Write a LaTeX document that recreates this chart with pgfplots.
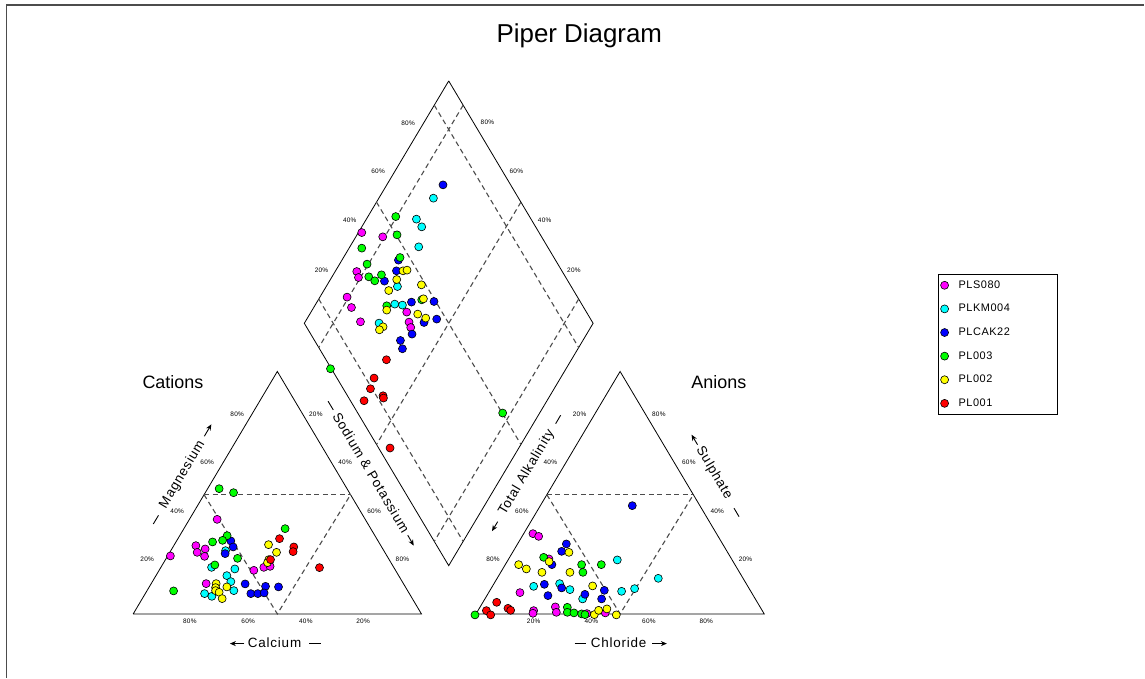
\documentclass[border=0pt]{standalone}
\usepackage{pgfplots}
\pgfplotsset{compat=1.18}
\usepackage{fontspec}
\setmainfont{Liberation Sans}
\usetikzlibrary{arrows.meta}
\definecolor{cMag}{RGB}{255,0,255}
\definecolor{cCya}{RGB}{0,255,255}
\definecolor{cBlu}{RGB}{0,0,255}
\definecolor{cGrn}{RGB}{0,255,0}
\definecolor{cYel}{RGB}{255,255,0}
\definecolor{cRed}{RGB}{255,0,0}
\newcommand\tk{\fontsize{6.5}{7}\selectfont\addfontfeature{LetterSpace=4}}
\newcommand\lab{\fontsize{13.5}{15}\selectfont\addfontfeature{LetterSpace=6}}
\newcommand\legtxt[1]{\makebox[94bp][l]{#1}}
\pgfplotsset{
  edge/.style={black, line width=0.8bp, forget plot, no markers},
  dsh/.style={black!70, line width=1.1bp, dash pattern=on 5bp off 3.5bp, forget plot, no markers},
  ser/.style={only marks, mark=*, mark size=4bp, mark options={draw=black, line width=0.6bp, fill=#1}},
}
\begin{document}
\begin{tikzpicture}
\begin{axis}[
  width=1145bp, height=678bp, scale only axis,
  xmin=0, xmax=1145, ymin=0, ymax=678, y dir=reverse,
  hide axis, clip=false,
  legend image code/.code={\draw[#1] plot coordinates {(0bp,0bp)};},
  legend style={at={(axis cs:938.3,274)}, anchor=north west, draw=black, line width=0.8bp,
    inner xsep=2.5bp, inner ysep=4.5bp, row sep=10.5bp, column sep=8bp,
    cells={anchor=west},
    font=\fontsize{11}{13}\selectfont\addfontfeature{LetterSpace=5}},
]
\path (axis cs:0,0) (axis cs:1145,678);
% frame
\draw[black!70, line width=1.5bp] (axis cs:6.5,678) -- (axis cs:6.5,5) -- (axis cs:1145,5);

% cation triangle
\addplot[edge] coordinates {(133.3,614.3) (421.7,614.3) (277.5,371.7) (133.3,614.3)};
\addplot[dsh] coordinates {(204.2,495) (350.8,495)};
\addplot[dsh] coordinates {(204.2,495) (277.5,614.3) (350.8,495)};
% anion triangle
\addplot[edge] coordinates {(476.3,614.3) (764.7,614.3) (620.5,371.7) (476.3,614.3)};
\addplot[dsh] coordinates {(547.2,495) (693.8,495)};
\addplot[dsh] coordinates {(547.2,495) (620.5,614.3) (693.8,495)};
% diamond
\addplot[edge] coordinates {(449,81) (304.5,323.5) (449,566) (593.5,323.5) (449,81)};
\addplot[dsh] coordinates {(463.45,105.25) (318.95,347.75)};
\addplot[dsh] coordinates {(521.25,202.25) (376.75,444.75)};
\addplot[dsh] coordinates {(579.05,299.25) (434.55,541.75)};
\addplot[dsh] coordinates {(434.55,105.25) (579.05,347.75)};
\addplot[dsh] coordinates {(376.75,202.25) (521.25,444.75)};
\addplot[dsh] coordinates {(318.95,299.25) (463.45,541.75)};

% data series
\addplot[ser=cMag] coordinates {
 (217.3,519.7) (196,546) (197.3,552.7) (205.3,549.3) (204.7,556.7) (170.5,556.3) (254,570.7) (264,567.7) (270.3,566.7) (206.3,584)
 (362,232.7) (383,237) (357,271.7) (358.7,277.7) (347.3,297.3) (351.7,307.7) (407,312.3) (360.7,322) (409.3,322.3) (411,327.7)
 (533.3,534) (539,536.7) (549.3,559.3) (520.3,593) (534,611) (533.3,613.7) (555.7,607.3) (556.7,612.7) (587.3,614) (605.7,613.3)};
\addlegendentry{\legtxt{PLS080}}
\addplot[ser=cCya] coordinates {
 (225.7,551) (211.7,567.7) (235,569.3) (227,576) (231,582) (234,591) (204.7,594) (212,596.7)
 (433.7,198.3) (416.7,219.3) (422,227) (419,247) (397.7,286.7) (395,304.3) (402.7,305.3) (379.3,323.3)
 (617.7,560.3) (658.7,578.7) (534,586.7) (560,584) (570.3,590) (622,591.7) (635,589) (583,599.3)};
\addlegendentry{\legtxt{PLKM004}}
\addplot[ser=cBlu] coordinates {
 (231,541.3) (233.3,547.3) (225.3,554) (245.3,584.3) (265.7,586.7) (278.7,587.3) (251,594) (258,594) (264.3,593.3)
 (443.3,185) (398.7,260.3) (396.7,271) (384.7,281.3) (411.7,302.3) (434.3,301.7) (437,319.3) (424.3,322.7) (412.3,334.3) (400.7,340.7) (402.7,349)
 (632.7,506) (566.7,544.3) (562,551.7) (552.3,565) (544.7,584.7) (562,588.3) (604.7,590.7) (548.3,596) (585.3,594.7) (602,599.3)};
\addlegendentry{\legtxt{PLCAK22}}
\addplot[ser=cGrn] coordinates {
 (219.3,489) (233.7,493) (285.3,529) (227.3,536) (212.7,542.3) (222.7,540.7) (237.7,558.7) (215,565.3) (173.7,591.3)
 (396,216.7) (397.3,235) (362,248.3) (400.3,257.7) (367.3,264.3) (369,277) (375,281) (381.7,275) (387,306) (422,300) (330.7,369) (503,413.3)
 (544,557.7) (582,565) (601.7,565) (583.3,572.7) (475.3,615.3) (567.7,607.7) (567.7,612.7) (574.3,613.3) (582,614.3) (585.3,615)};
\addlegendentry{\legtxt{PL003}}
\addplot[ser=cYel] coordinates {
 (268.7,545) (276.7,552.7) (269,560) (267.7,563) (216.3,584) (215.7,588) (215.7,591) (227,587.3) (219.3,592.7) (222.3,599)
 (403.3,271) (407.3,270.3) (397,279.7) (389,290.7) (421.7,285) (387,310.3) (423.7,299) (418,314.3) (426,318.3) (383.3,327) (379.7,330)
 (569.3,552.7) (549.5,562) (519,565) (526.7,569.3) (542.3,572.7) (570.3,572.7) (593,586.3) (594.7,615) (599,610.7) (607.3,609.3) (616.7,615.3)};
\addlegendentry{\legtxt{PL002}}
\addplot[ser=cRed] coordinates {
 (279.7,539) (294,547.3) (293.3,552) (270.7,560) (319.7,568)
 (386.7,360) (374.3,378.3) (370.7,389) (383.3,396) (383.7,398.3) (364.3,401) (390.3,448.3)
 (497,602.7) (486.7,611) (491,615.3) (508.3,608.7) (511,610.7)};
\addlegendentry{\legtxt{PL001}}

% titles
\node[anchor=base, font=\fontsize{26}{30}\selectfont] at (axis cs:579.7,42.5) {Piper Diagram};
\node[anchor=base, font=\fontsize{18}{20}\selectfont] at (axis cs:173,388.5) {Cations};
\node[anchor=base, font=\fontsize{18}{20}\selectfont] at (axis cs:719.3,388.5) {Anions};

% axis titles
\node[font=\lab] at (axis cs:274.7,643) {Calcium};
\draw[-{Stealth[length=6bp,width=5bp]}, line width=0.9bp] (axis cs:244.5,644) -- (axis cs:230,644);
\draw[line width=0.9bp] (axis cs:309.3,644) -- (axis cs:321.7,644);
\node[font=\lab] at (axis cs:619,643) {Chloride};
\draw[line width=0.9bp] (axis cs:575,644) -- (axis cs:586.7,644);
\draw[-{Stealth[length=6bp,width=5bp]}, line width=0.9bp] (axis cs:652.7,644) -- (axis cs:667.3,644);

\node[font=\lab, rotate=59.27] at (axis cs:182.5,475) {Magnesium};
\draw[line width=0.9bp] (axis cs:153.4,524.3) -- (axis cs:158.6,515.7);
\draw[-{Stealth[length=6bp,width=5bp]}, line width=0.9bp] (axis cs:204.5,436.5) -- (axis cs:211.5,424.6);

\node[font=\lab, rotate=-59.27] at (axis cs:371.5,473) {Sodium \& Potassium};
\draw[line width=0.9bp] (axis cs:328.3,401.5) -- (axis cs:333.5,410.2);
\draw[-{Stealth[length=6bp,width=5bp]}, line width=0.9bp] (axis cs:408,535.5) -- (axis cs:414,546);

\node[font=\lab, rotate=59.27] at (axis cs:527,473) {Total Alkalinity};
\draw[line width=0.9bp] (axis cs:556,424) -- (axis cs:561,415.5);
\draw[-{Stealth[length=6bp,width=5bp]}, line width=0.9bp] (axis cs:498,522) -- (axis cs:492.3,531.5);

\node[font=\lab, rotate=-59.27] at (axis cs:714.5,473.3) {Sulphate};
\draw[line width=0.9bp] (axis cs:734.5,508.5) -- (axis cs:739.5,517);
\draw[-{Stealth[length=6bp,width=5bp]}, line width=0.9bp] (axis cs:698,445) -- (axis cs:692,435);

% tick labels: cation
\node[font=\tk] at (axis cs:237.3,414.3) {80\%};
\node[font=\tk] at (axis cs:207.3,462.7) {60\%};
\node[font=\tk] at (axis cs:177.3,511.7) {40\%};
\node[font=\tk] at (axis cs:147.3,560) {20\%};
\node[font=\tk] at (axis cs:316,414.3) {20\%};
\node[font=\tk] at (axis cs:345.3,462.7) {40\%};
\node[font=\tk] at (axis cs:374.3,511.7) {60\%};
\node[font=\tk] at (axis cs:402.7,560) {80\%};
\node[font=\tk] at (axis cs:190,621.7) {80\%};
\node[font=\tk] at (axis cs:248.3,621.7) {60\%};
\node[font=\tk] at (axis cs:306,621.7) {40\%};
\node[font=\tk] at (axis cs:363.3,621.7) {20\%};
% anion
\node[font=\tk] at (axis cs:580,414.3) {20\%};
\node[font=\tk] at (axis cs:550.7,462.7) {40\%};
\node[font=\tk] at (axis cs:522.3,511.7) {60\%};
\node[font=\tk] at (axis cs:493.3,560) {80\%};
\node[font=\tk] at (axis cs:659.3,414.3) {80\%};
\node[font=\tk] at (axis cs:689.3,462.7) {60\%};
\node[font=\tk] at (axis cs:717.7,511.7) {40\%};
\node[font=\tk] at (axis cs:746,560) {20\%};
\node[font=\tk] at (axis cs:534,621.7) {20\%};
\node[font=\tk] at (axis cs:591.7,621.7) {40\%};
\node[font=\tk] at (axis cs:649.3,621.7) {60\%};
\node[font=\tk] at (axis cs:706.7,621.7) {80\%};
% diamond
\node[font=\tk] at (axis cs:408.3,123.3) {80\%};
\node[font=\tk] at (axis cs:378.3,171.7) {60\%};
\node[font=\tk] at (axis cs:350,220.7) {40\%};
\node[font=\tk] at (axis cs:321.7,270) {20\%};
\node[font=\tk] at (axis cs:487.7,122.7) {80\%};
\node[font=\tk] at (axis cs:516.7,171.7) {60\%};
\node[font=\tk] at (axis cs:545,220.7) {40\%};
\node[font=\tk] at (axis cs:574.3,270) {20\%};
\end{axis}
\end{tikzpicture}
\end{document}
